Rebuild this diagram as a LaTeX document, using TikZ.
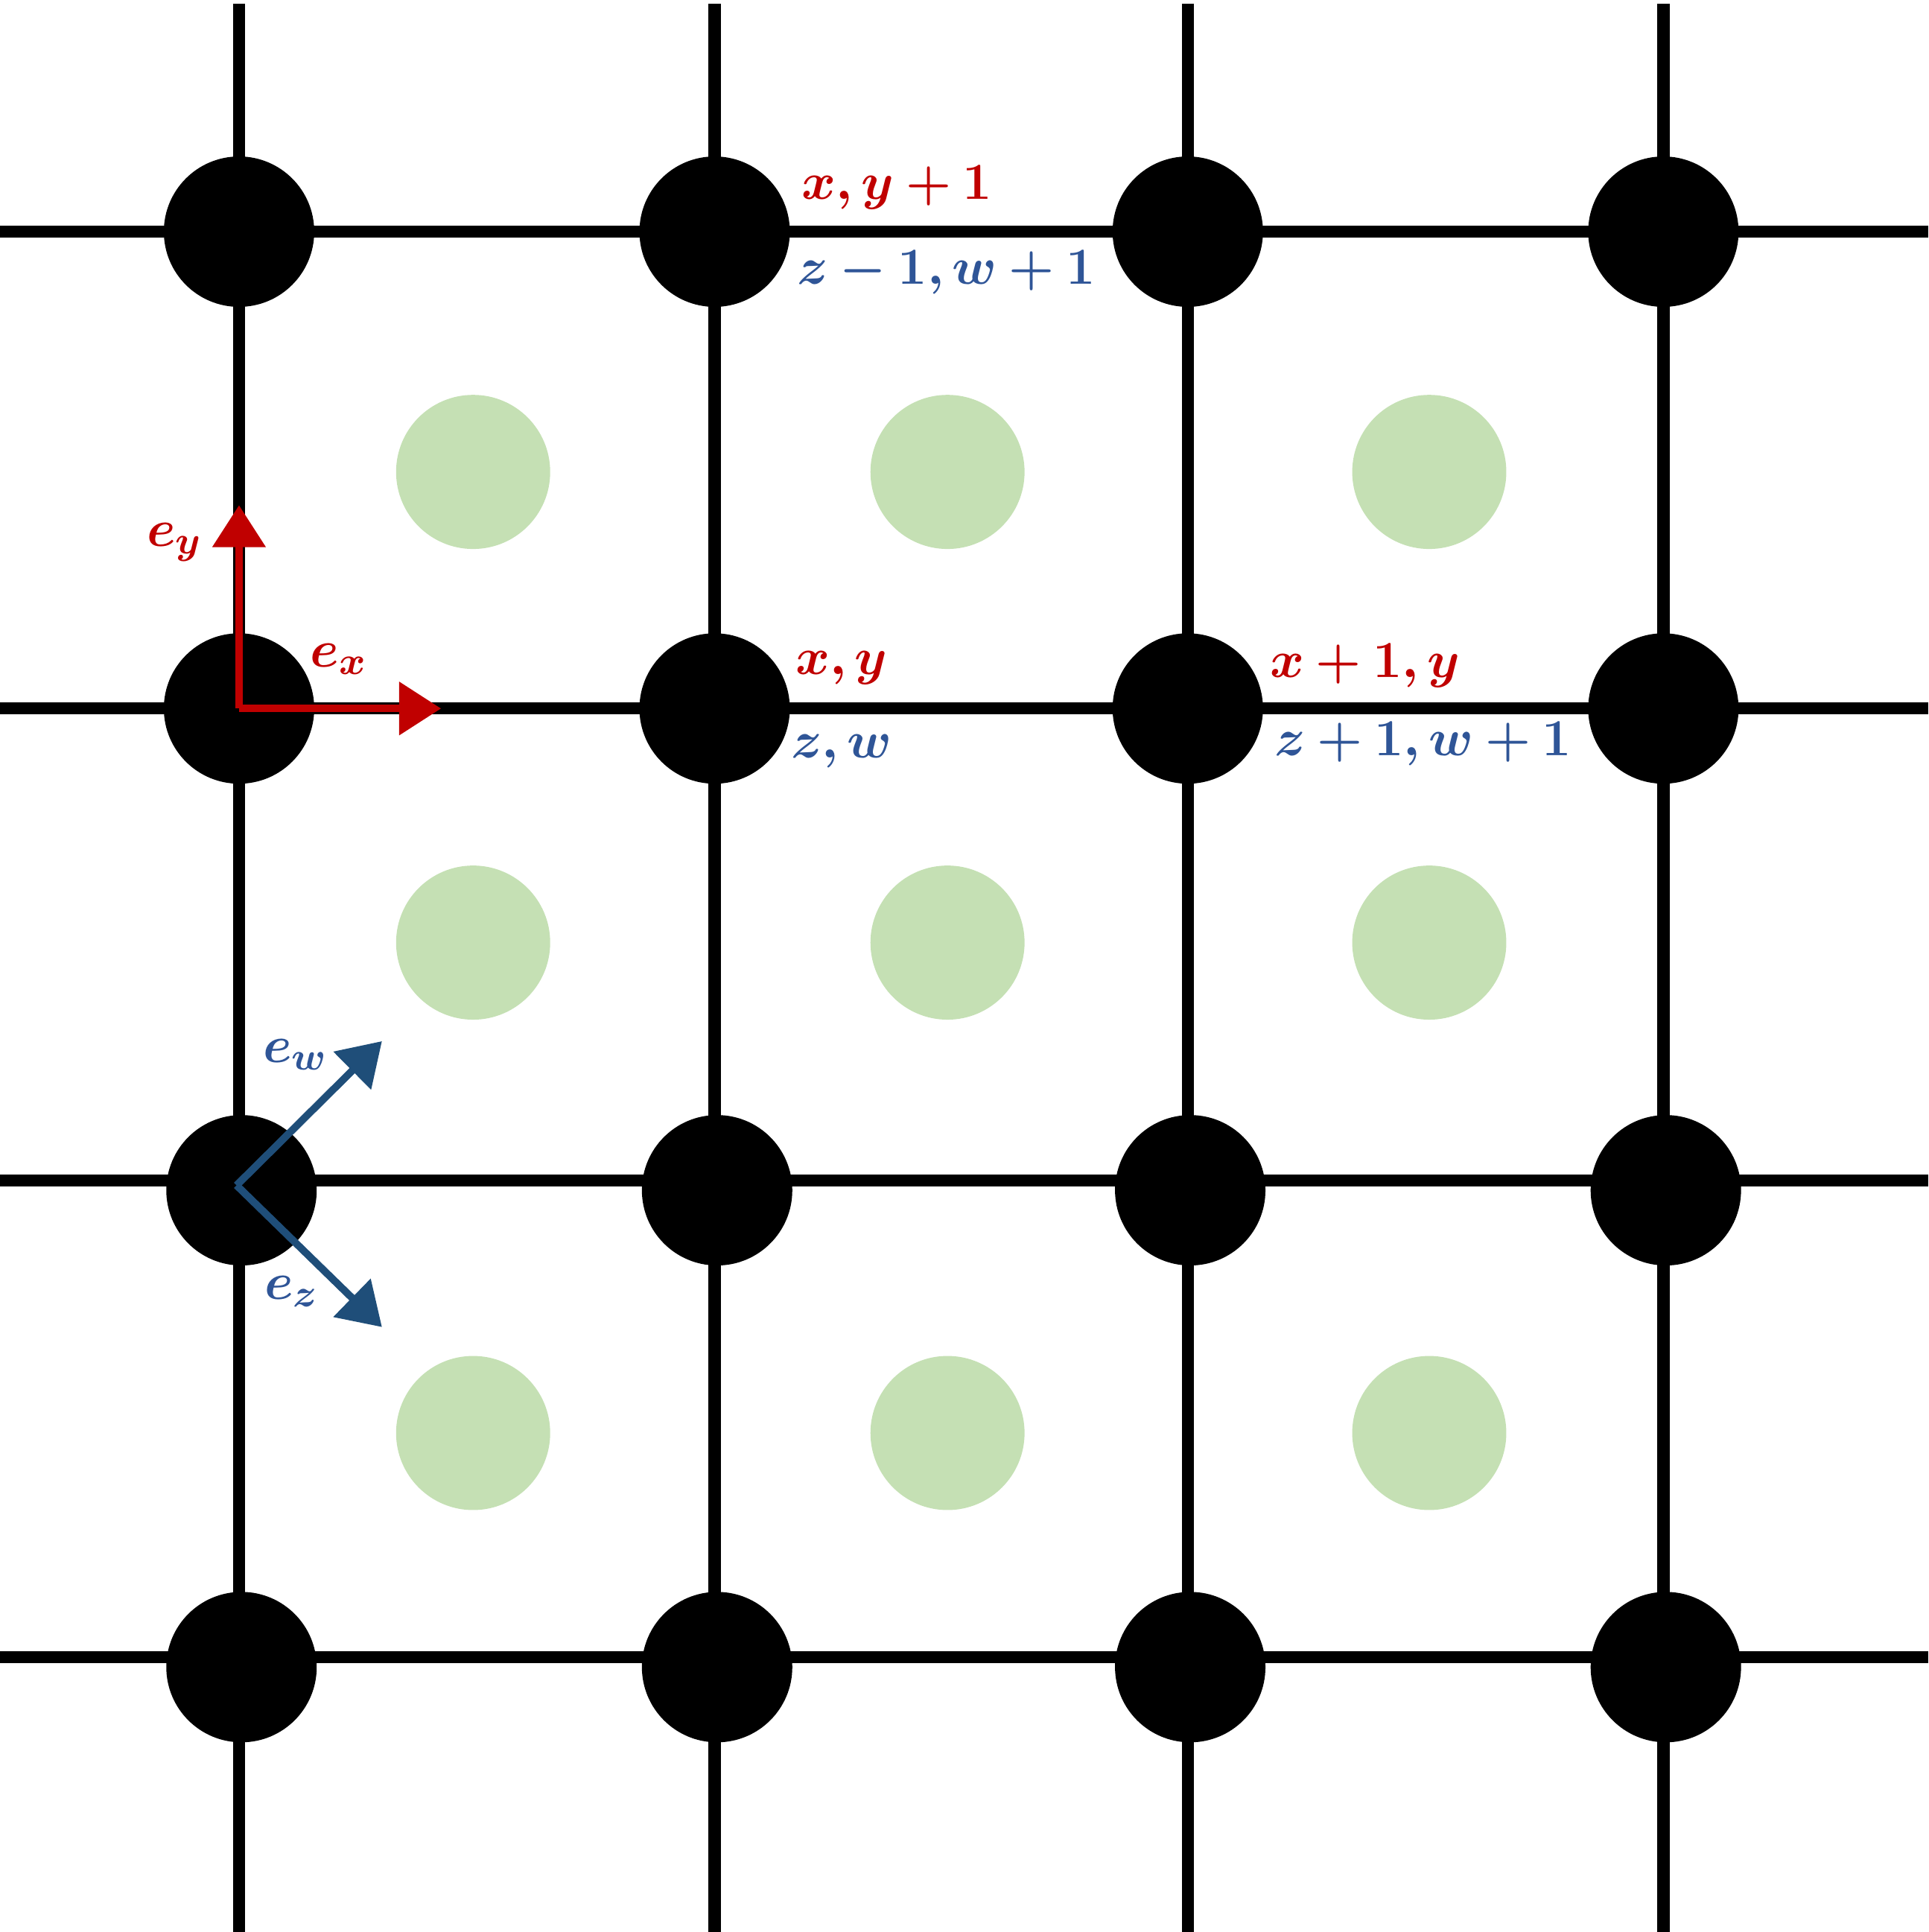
\documentclass[tikz,border=0pt]{standalone}
\usepackage{bm}
\usetikzlibrary{arrows.meta}
\definecolor{darkred}{HTML}{C00000}
\definecolor{steelblue}{HTML}{2F5597}
\definecolor{navyblue}{HTML}{1F4E79}
\definecolor{palegreen}{HTML}{C5E0B4}
\newcommand{\rd}[1]{\textcolor{darkred}{#1}}
\newcommand{\bl}[1]{\textcolor{steelblue}{#1}}

\begin{document}
\begin{tikzpicture}[x={(0.01cm,0)}, y={(0,-0.01cm)},
    site/.style={circle, fill=black, inner sep=0pt, minimum size=1.22cm},
    plaq/.style={circle, fill=palegreen, inner sep=0pt, minimum size=1.25cm},
    lbl/.style={font=\fontsize{13}{15}\selectfont, inner sep=0pt},
    vec/.style={line width=1.7pt, -{Triangle[width=0.42cm,length=0.34cm]}}]
    \useasboundingbox (0,0) rectangle (1565,1568);

    % Lattice lines
    \foreach \x in {194,580,964,1350}
        \draw[line width=2.8pt] (\x,3) -- (\x,1568);
    \foreach \y in {188,575,958,1345}
        \draw[line width=2.8pt] (0,\y) -- (1565,\y);

    % Lattice sites
    \foreach \x [count=\i] in {194,580,964,1350} {
        \node[site] (s1\i) at (\x,188) {};
        \node[site] (s2\i) at (\x,575) {};
        \node[site] (s3\i) at (\x+2,966) {};
        \node[site] (s4\i) at (\x+2,1353) {};
    }

    % Plaquette centres
    \foreach \x [count=\i] in {384,769,1160} {
        \node[plaq] (p1\i) at (\x,383) {};
        \node[plaq] (p2\i) at (\x,765) {};
        \node[plaq] (p3\i) at (\x,1163) {};
    }

    % Labels
    \node[lbl] (a1) at (728,152) {$\rd{\bm{x,y+1}}$};
    \node[lbl] (a2) at (768,221) {$\bl{\bm{z-1,w+1}}$};
    \node[lbl] (b1) at (683,542) {$\rd{\bm{x,y}}$};
    \node[lbl] (b2) at (683,610) {$\bl{\bm{z,w}}$};
    \node[lbl] (c1) at (1108,540) {$\rd{\bm{x+1,y}}$};
    \node[lbl] (c2) at (1155,604) {$\bl{\bm{z+1,w+1}}$};

    % Basis vectors
    \coordinate (o1) at (194,575);
    \coordinate (ex) at (358,575);
    \coordinate (ey) at (194,410);
    \draw[vec, darkred] (o1) -- (ex);
    \draw[vec, darkred] (o1) -- (ey);
    \node[lbl] (lx) at (275,535) {$\rd{\bm{e_x}}$};
    \node[lbl] (ly) at (142,440) {$\rd{\bm{e_y}}$};

    \coordinate (o2) at (192,962);
    \coordinate (ew) at (310,845);
    \coordinate (ez) at (310,1077);
    \draw[vec, navyblue] (o2) -- (ew);
    \draw[vec, navyblue] (o2) -- (ez);
    \node[lbl] (lw) at (240,856) {$\bl{\bm{e_w}}$};
    \node[lbl] (lz) at (237,1048) {$\bl{\bm{e_z}}$};
\end{tikzpicture}
\end{document}
